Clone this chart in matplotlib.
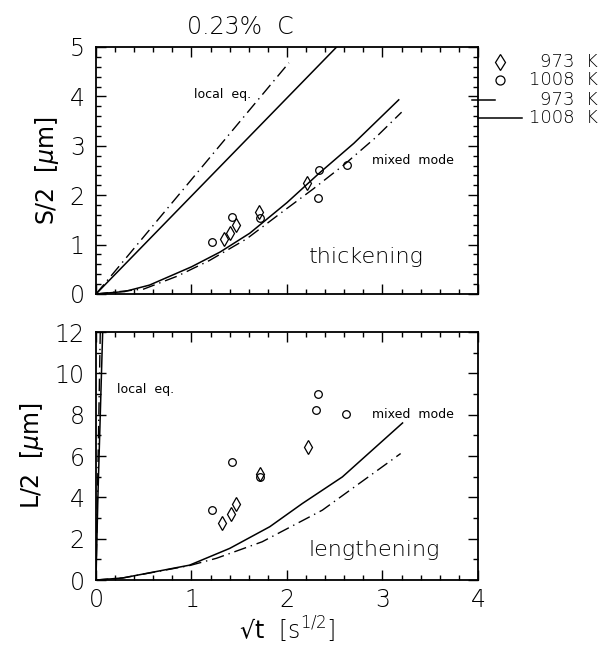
import matplotlib
matplotlib.use('Agg')
import matplotlib.pyplot as plt
from matplotlib.lines import Line2D
from matplotlib.ticker import MultipleLocator

plt.rcParams.update({'font.family': 'DejaVu Sans', 'font.weight': 'light',
                     'mathtext.fontset': 'dejavusans', 'lines.linewidth': 1.0})

# ── data ──
# thickening (top): S/2 [um] vs sqrt(t)
top_dia_x = [1.34, 1.40, 1.47, 1.71, 2.21]
top_dia_y = [1.11, 1.23, 1.40, 1.66, 2.25]
top_cir_x = [1.22, 1.42, 1.72, 2.32, 2.34, 2.63]
top_cir_y = [1.05, 1.56, 1.54, 1.94, 2.51, 2.61]

top_leq_solid_x = [0, 2.52]
top_leq_solid_y = [0, 5.0]
top_leq_dash_x = [0, 2.02]
top_leq_dash_y = [0, 4.68]
top_mix_solid_x = [0, 0.3, 0.56, 1.0, 1.3, 1.61, 2.0, 2.34, 2.7, 3.17]
top_mix_solid_y = [0, 0.05, 0.18, 0.55, 0.85, 1.23, 1.85, 2.45, 3.05, 3.93]
top_mix_dash_x = [0, 0.5, 0.85, 1.19, 1.58, 1.95, 2.27, 2.6, 2.93, 3.2]
top_mix_dash_y = [0, 0.1, 0.36, 0.68, 1.12, 1.66, 2.12, 2.62, 3.17, 3.68]

# lengthening (bottom): L/2 [um] vs sqrt(t)
bot_dia_x = [1.32, 1.41, 1.47, 1.72, 2.22]
bot_dia_y = [2.74, 3.19, 3.70, 5.15, 6.44]
bot_cir_x = [1.21, 1.42, 1.72, 2.30, 2.32, 2.62]
bot_cir_y = [3.41, 5.72, 5.00, 8.21, 9.02, 8.02]

bot_leq_solid_x = [0, 0.02, 0.07]
bot_leq_solid_y = [0, 4, 12]
bot_leq_dash_x = [0, 0.045]
bot_leq_dash_y = [0, 12]
bot_mix_solid_x = [0, 0.28, 0.98, 1.40, 1.82, 2.16, 2.58, 3.21]
bot_mix_solid_y = [0, 0.1, 0.72, 1.53, 2.58, 3.70, 4.99, 7.6]
bot_mix_dash_x = [0, 0.28, 0.98, 1.26, 1.74, 2.37, 3.19]
bot_mix_dash_y = [0, 0.1, 0.70, 1.05, 1.85, 3.38, 6.12]

DASHDOT = (0, (9, 3.5, 1, 3.5))
TICK_FS = 17

fig = plt.figure(figsize=(6.09, 6.48), dpi=100)
ax1 = fig.add_axes([0.1576, 0.5463, 0.6273, 0.3812])
ax2 = fig.add_axes([0.1576, 0.1049, 0.6273, 0.3827])


def style(ax, ymax, ymajor, yminor, xlabels):
    ax.set_xlim(0, 4); ax.set_ylim(0, ymax)
    ax.xaxis.set_major_locator(MultipleLocator(1)); ax.xaxis.set_minor_locator(MultipleLocator(0.2))
    ax.yaxis.set_major_locator(MultipleLocator(ymajor)); ax.yaxis.set_minor_locator(MultipleLocator(yminor))
    ax.tick_params(which='both', direction='in', top=True, right=True, width=1.0, labelsize=TICK_FS)
    ax.tick_params(which='major', length=7)
    ax.tick_params(which='minor', length=3.5)
    ax.tick_params(axis='x', pad=6, labelbottom=xlabels)
    ax.tick_params(axis='y', pad=8)
    for s in ax.spines.values():
        s.set_linewidth(1.3)


style(ax1, 5, 1, 0.2, False)
style(ax2, 12, 2, 1, True)

# top panel
ax1.plot(top_leq_solid_x, top_leq_solid_y, color='black', lw=1.1)
ax1.plot(top_leq_dash_x, top_leq_dash_y, color='black', lw=1.0, ls=DASHDOT)
ax1.plot(top_mix_solid_x, top_mix_solid_y, color='black', lw=1.1)
ax1.plot(top_mix_dash_x, top_mix_dash_y, color='black', lw=1.0, ls=DASHDOT)
ax1.plot(top_dia_x, top_dia_y, ls='none', marker='d', ms=7, mfc='none', mec='black', mew=0.9)
ax1.plot(top_cir_x, top_cir_y, ls='none', marker='o', ms=5.5, mfc='none', mec='black', mew=0.9)
ax1.text(1.03, 4.03, 'local  eq.', fontsize=9, weight='normal', va='center')
ax1.text(2.89, 2.71, 'mixed  mode', fontsize=9, weight='normal', va='center')
ax1.text(2.23, 0.75, 'thickening', fontsize=16, va='center')
ax1.set_ylabel('S/2  [$\\mu$m]', fontsize=TICK_FS, labelpad=6)

# bottom panel
ax2.plot(bot_leq_solid_x, bot_leq_solid_y, color='black', lw=1.1)
ax2.plot(bot_leq_dash_x, bot_leq_dash_y, color='black', lw=1.0, ls=DASHDOT)
ax2.plot(bot_mix_solid_x, bot_mix_solid_y, color='black', lw=1.1)
ax2.plot(bot_mix_dash_x, bot_mix_dash_y, color='black', lw=1.0, ls=DASHDOT)
ax2.plot(bot_dia_x, bot_dia_y, ls='none', marker='d', ms=7, mfc='none', mec='black', mew=0.9)
ax2.plot(bot_cir_x, bot_cir_y, ls='none', marker='o', ms=5.5, mfc='none', mec='black', mew=0.9)
ax2.text(0.22, 9.2, 'local  eq.', fontsize=9, weight='normal', va='center')
ax2.text(2.89, 8.0, 'mixed  mode', fontsize=9, weight='normal', va='center')
ax2.text(2.23, 1.45, 'lengthening', fontsize=16, va='center')
ax2.set_ylabel('L/2  [$\\mu$m]', fontsize=TICK_FS, labelpad=6)
ax2.set_xlabel('√t  $\\left[\\mathrm{s}^{1/2}\\right]$', fontsize=TICK_FS, labelpad=2)

# title
fig.text(240 / 609, 1 - 27 / 648, '0.23%  C', fontsize=TICK_FS, ha='center', va='center')

# legend at right of top panel
leg_y = [62, 80, 100, 118]
leg_lab = ['973  K', '1008  K', '973  K', '1008  K']
for yy, lab in zip(leg_y, leg_lab):
    fig.text(598 / 609, 1 - yy / 648, lab, fontsize=13, ha='right', va='center')
fig.add_artist(Line2D([500 / 609], [1 - leg_y[0] / 648], marker='d', ms=8, mfc='none',
                      mec='black', mew=0.9, transform=fig.transFigure))
fig.add_artist(Line2D([500 / 609], [1 - leg_y[1] / 648], marker='o', ms=6.5, mfc='none',
                      mec='black', mew=0.9, transform=fig.transFigure))
fig.add_artist(Line2D([472 / 609, 495 / 609], [1 - leg_y[2] / 648] * 2, color='black', lw=1.1,
                      transform=fig.transFigure))
fig.add_artist(Line2D([478 / 609, 522 / 609], [1 - leg_y[3] / 648] * 2, color='black', lw=1.1,
                      transform=fig.transFigure))

fig.savefig('out.png', dpi=100)
